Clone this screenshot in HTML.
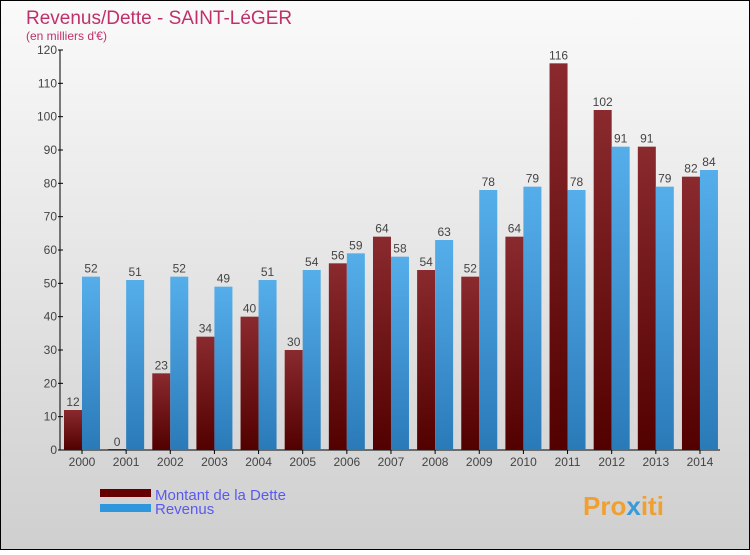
<!DOCTYPE html>
<html><head><meta charset="utf-8"><style>
body{margin:0;width:750px;height:550px;overflow:hidden;font-family:"Liberation Sans",sans-serif}
</style></head><body>
<svg width="750" height="550" xmlns="http://www.w3.org/2000/svg">
<defs>
<linearGradient id="bg" x1="0" y1="0" x2="0" y2="1"><stop offset="0" stop-color="#fafafa"/><stop offset="1" stop-color="#cfcfcf"/></linearGradient>
<linearGradient id="gd" x1="0" y1="0" x2="0" y2="1"><stop offset="0" stop-color="#8a2a2e"/><stop offset="1" stop-color="#520000"/></linearGradient>
<linearGradient id="gr" x1="0" y1="0" x2="0" y2="1"><stop offset="0" stop-color="#55aeea"/><stop offset="1" stop-color="#2a7ab8"/></linearGradient>
</defs>
<rect x="0.5" y="0.5" width="749" height="549" fill="url(#bg)" stroke="#000"/>
<text x="26" y="24" font-size="19" fill="#c0306a">Revenus/Dette - SAINT-LéGER</text>
<text x="26" y="40" font-size="12" fill="#c0306a">(en milliers d'€)</text>
<g id="axes"></g>
<g id="bars"></g>
<rect x="100" y="489" width="51" height="8" fill="#660000"/>
<rect x="100" y="504" width="51" height="8" fill="#2d96dc"/>
<text x="155" y="500" font-size="15" fill="#5a5aee">Montant de la Dette</text>
<text x="155" y="514" font-size="15" fill="#5a5aee">Revenus</text>
<text x="583" y="515" font-size="26" font-weight="bold" fill="#f0a030">Pro<tspan fill="#3a9ad9">x</tspan>iti</text>
</svg>
<script>
const years=["2000","2001","2002","2003","2004","2005","2006","2007","2008","2009","2010","2011","2012","2013","2014"];
const dette=[12,0,23,34,40,30,56,64,54,52,64,116,102,91,82];
const revenus=[52,51,52,49,51,54,59,58,63,78,79,78,91,79,84];
const yTicks=[0,10,20,30,40,50,60,70,80,90,100,110,120];
const NS="http://www.w3.org/2000/svg";
const y0=450,yTop=50,yMax=120,x0=60,step=44.14,first=82,bw=18;
const yS=v=>y0-(v/yMax)*(y0-yTop);
const xS=i=>first+i*step;
function mk(tag,attrs,parent){const e=document.createElementNS(NS,tag);for(const k in attrs)e.setAttribute(k,attrs[k]);parent.appendChild(e);return e;}
const ax=document.getElementById('axes'),bg=document.getElementById('bars');
let l=mk('line',{x1:x0,y1:yTop,x2:x0,y2:y0,stroke:'#000'},ax);


l=mk('line',{x1:x0,y1:y0,x2:720,y2:y0,stroke:'#000'},ax);


yTicks.forEach(v=>{
 const y=yS(v);
 mk('line',{x1:x0-2,y1:y,x2:x0+3,y2:y,stroke:'#000'},ax);
 const t=mk('text',{x:x0-3,y:y+4,'font-size':12,fill:'#444','text-anchor':'end'},ax);
 t.textContent=v;
 
 
});
years.forEach((yr,i)=>{
 const c=xS(i);
 mk('line',{x1:c,y1:y0,x2:c,y2:y0+4,stroke:'#000'},ax);
 const t=mk('text',{x:c,y:y0+16,'font-size':12,fill:'#444','text-anchor':'middle'},ax);
 t.textContent=yr;
 
 
 const hd=Math.max(1,y0-yS(dette[i]));
 const r1=mk('rect',{x:c-bw,y:y0-hd,width:bw,height:hd,fill:'url(#gd)'},bg);
 
 
 const hr=y0-yS(revenus[i]);
 const r2=mk('rect',{x:c,y:y0-hr,width:bw,height:hr,fill:'url(#gr)'},bg);
 
 
 const a=mk('text',{x:c-bw/2,y:yS(dette[i])-4,'font-size':12,fill:'#444','text-anchor':'middle'},bg);
 a.textContent=dette[i];
 
 
 const b=mk('text',{x:c+bw/2,y:yS(revenus[i])-4,'font-size':12,fill:'#444','text-anchor':'middle'},bg);
 b.textContent=revenus[i];
 
 
});
</script>
</body></html>
